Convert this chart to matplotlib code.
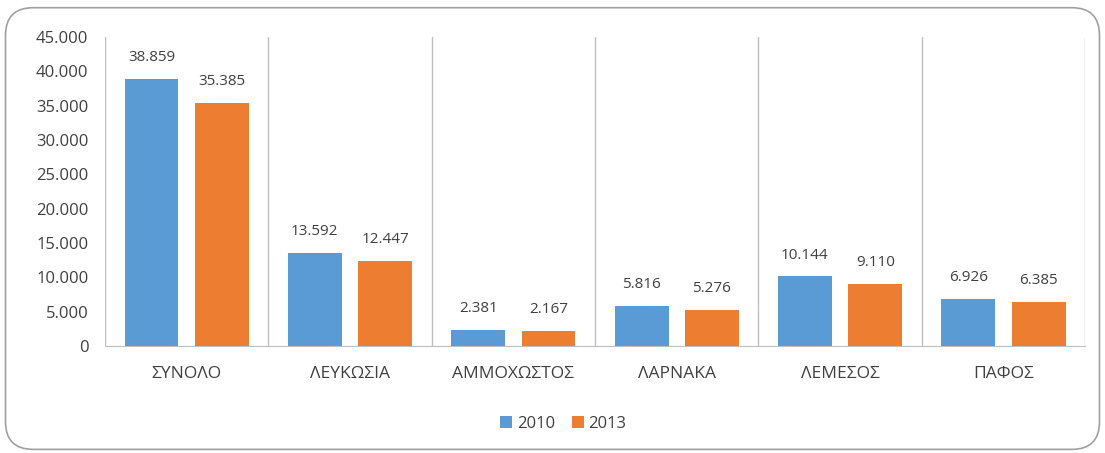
import matplotlib.pyplot as plt
import numpy as np
from matplotlib.patches import FancyBboxPatch

# δεδομένα
categories = ['ΣΥΝΟΛΟ', 'ΛΕΥΚΩΣΙΑ', 'ΑΜΜΟΧΩΣΤΟΣ', 'ΛΑΡΝΑΚΑ', 'ΛΕΜΕΣΟΣ', 'ΠΑΦΟΣ']
values_2010 = [38859, 13592, 2381, 5816, 10144, 6926]
values_2013 = [35385, 12447, 2167, 5276, 9110, 6385]
series_names = ['2010', '2013']
yticks = [0, 5000, 10000, 15000, 20000, 25000, 30000, 35000, 40000, 45000]

plt.rcParams['font.family'] = ['Open Sans', 'DejaVu Sans']


def fmt(v):
    return f'{v:,}'.replace(',', '.')


fig = plt.figure(figsize=(11.05, 4.53), dpi=100)
# στρογγυλεμένο πλαίσιο
frame = FancyBboxPatch((0.005, 0.008), 0.99, 0.975, boxstyle='round,pad=0,rounding_size=0.025',
                       transform=fig.transFigure, facecolor='white', edgecolor='#a0a0a0',
                       linewidth=1.2, mutation_aspect=1105 / 453, zorder=-10)
fig.patches.append(frame)

ax = fig.add_axes([0.095, 0.236, 0.887, 0.682])
ax.set_facecolor('none')

x = np.arange(len(categories))
w = 0.33
off = 0.215
b1 = ax.bar(x - off, values_2010, w, color='#5B9BD5', label=series_names[0])
b2 = ax.bar(x + off, values_2013, w, color='#ED7D31', label=series_names[1])

for bars, vals in ((b1, values_2010), (b2, values_2013)):
    for b, v in zip(bars, vals):
        ax.annotate(fmt(v), (b.get_x() + b.get_width() / 2, v), xytext=(0, 10),
                    textcoords='offset points', ha='center', va='bottom',
                    fontsize=11, color='#404040')

ax.set_xlim(-0.5, len(categories) - 0.5)
ax.set_ylim(0, 45000)
ax.set_yticks(yticks)
ax.set_yticklabels([fmt(t) for t in yticks], fontsize=12, color='#404040')
ax.set_xticks(x)
ax.set_xticklabels(categories, fontsize=12.5, color='#404040')
ax.tick_params(axis='both', length=0)
ax.tick_params(axis='x', pad=14)
ax.tick_params(axis='y', pad=12)

# κάθετες γραμμές ανάμεσα στις κατηγορίες
for b in np.arange(-0.5, len(categories), 1.0):
    ax.axvline(b, color='#bfbfbf', linewidth=1, zorder=0)

for s in ['top', 'right', 'left']:
    ax.spines[s].set_visible(False)
ax.spines['bottom'].set_color('#bfbfbf')

fig.legend(loc='center', bbox_to_anchor=(0.51, 0.065), ncol=2, frameon=False,
           fontsize=12, handlelength=0.7, handleheight=0.7, handletextpad=0.3,
           columnspacing=1.0, labelcolor='#404040')

fig.savefig('out.png', dpi=100)
